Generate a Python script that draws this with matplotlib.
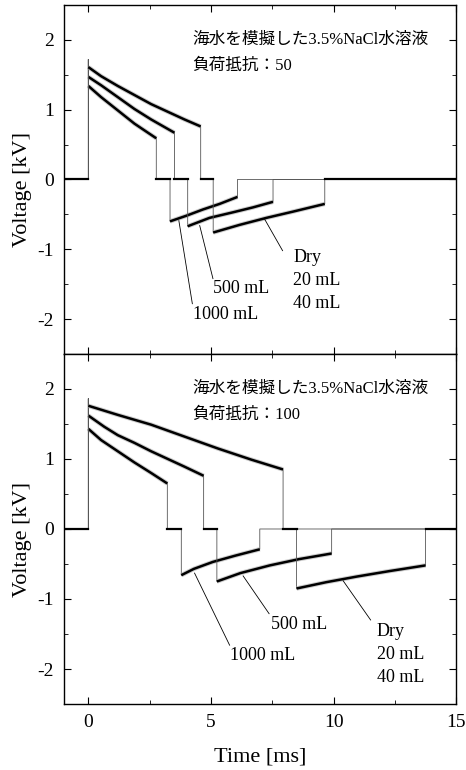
import numpy as np
import matplotlib
matplotlib.use("Agg")
import matplotlib.pyplot as plt
from matplotlib.ticker import MultipleLocator

plt.rcParams.update({
    "font.family": ["Liberation Serif", "Noto Sans CJK JP"],
    "font.size": 14,
    "axes.linewidth": 1.0,
    "xtick.direction": "in", "ytick.direction": "in",
    "xtick.top": True, "ytick.right": True,
    "xtick.major.size": 5, "ytick.major.size": 5,
    "xtick.minor.size": 3, "ytick.minor.size": 3,
})

# Waveforms (t in ms, V in kV)
# panel A: load 50, panel B: load 100; traces ordered 1000 mL, 500 mL, Dry/20/40 mL
spike_a = 1.72
pos_t_a = [[0.0, 0.52, 1.2, 1.88, 2.43, 2.77],
           [0.0, 0.52, 1.2, 1.88, 2.56, 3.11, 3.51],
           [0.0, 0.52, 1.2, 1.88, 2.56, 3.24, 3.92, 4.58]]
pos_v_a = [[1.34, 1.18, 0.99, 0.80, 0.67, 0.59],
           [1.47, 1.35, 1.18, 1.01, 0.86, 0.75, 0.67],
           [1.61, 1.48, 1.34, 1.21, 1.08, 0.97, 0.86, 0.76]]
neg_t_a = [[3.33, 3.99, 4.67, 5.35, 6.08],
           [4.05, 4.94, 5.90, 6.71, 7.53],
           [5.09, 6.17, 7.26, 8.35, 9.64]]
neg_v_a = [[-0.60, -0.52, -0.43, -0.35, -0.25],
           [-0.67, -0.55, -0.47, -0.40, -0.32],
           [-0.76, -0.65, -0.55, -0.46, -0.35]]

spike_b = 1.86
pos_t_b = [[0.0, 0.52, 1.2, 1.88, 2.56, 3.22],
           [0.0, 0.65, 1.2, 1.88, 2.56, 3.24, 3.92, 4.70],
           [0.0, 1.2, 2.56, 3.92, 5.28, 6.65, 7.94]]
pos_v_b = [[1.43, 1.27, 1.11, 0.95, 0.80, 0.65],
           [1.62, 1.46, 1.34, 1.23, 1.11, 1.00, 0.89, 0.76],
           [1.76, 1.63, 1.49, 1.32, 1.15, 0.99, 0.85]]
neg_t_b = [[3.79, 4.30, 5.08, 6.00, 6.99],
           [5.24, 6.20, 7.40, 8.60, 9.92],
           [8.49, 9.70, 10.94, 12.30, 13.75]]
neg_v_b = [[-0.66, -0.57, -0.47, -0.38, -0.29],
           [-0.75, -0.63, -0.52, -0.43, -0.35],
           [-0.85, -0.76, -0.68, -0.60, -0.52]]

title = "海水を模擬した3.5%NaCl水溶液"
loads = ["負荷抵抗：50", "負荷抵抗：100"]
labels = ["1000 mL", "500 mL", "Dry\n20 mL\n40 mL"]

# label anchor (left, centre of first line) and leader line (trace -> text)
lab_xy_a = [(4.25, -1.93), (5.1, -1.56), (8.35, -1.12)]
lead_a = [((3.69, -0.59), (4.24, -1.78)), ((4.54, -0.66), (5.08, -1.42)), ((7.19, -0.57), (7.92, -1.02))]
lab_xy_b = [(5.78, -1.80), (7.46, -1.37), (11.75, -1.46)]
lead_b = [((4.33, -0.63), (5.76, -1.66)), ((6.31, -0.67), (7.37, -1.21)), ((10.39, -0.74), (11.51, -1.30))]

fig = plt.figure(figsize=(4.66, 7.70), dpi=100)
ax1 = fig.add_axes([0.137, 0.5403, 0.842, 0.4532])
ax2 = fig.add_axes([0.137, 0.0857, 0.842, 0.4546])


def draw(ax, spike, pos_t, pos_v, neg_t, neg_v, load, lab_xy, lead):
    for pt, pv, nt, nv in zip(pos_t, pos_v, neg_t, neg_v):
        t = [-1, 0, 0] + pt + [pt[-1], nt[0], nt[0]] + nt + [nt[-1], 15]
        v = [0, 0, spike] + pv + [0, 0] + [nv[0]] + nv + [0, 0]
        ax.plot(t, v, color="#555555", lw=0.6)
        for xs, ys in [(pt, pv), (nt, nv)]:
            ax.plot(xs, ys, color="#aaaaaa", lw=3.2, alpha=0.6, solid_capstyle="butt")
            ax.plot(xs, ys, color="black", lw=1.8, solid_capstyle="butt")
    ax.plot([-1, 0], [0, 0], color="black", lw=1.6)
    ax.plot([max(n[-1] for n in neg_t), 15], [0, 0], color="black", lw=1.6)
    for pt, nt in zip(pos_t, neg_t):
        ax.plot([pt[-1], nt[0]], [0, 0], color="black", lw=1.6)

    for (x0, y0), (x1, y1) in lead:
        ax.plot([x0, x1], [y0, y1], color="black", lw=0.6)
    for txt, (x, y) in zip(labels, lab_xy):
        for i, part in enumerate(txt.split("\n")):
            ax.text(x, y - 0.33 * i, part, fontsize=13, ha="left", va="center")

    ax.text(0.328, 0.90, title, transform=ax.transAxes, fontsize=12, ha="left", va="center")
    ax.text(0.328, 0.825, load, transform=ax.transAxes, fontsize=12, ha="left", va="center")

    ax.set_xlim(-1, 15)
    ax.set_ylim(-2.5, 2.5)
    ax.xaxis.set_major_locator(MultipleLocator(5))
    ax.xaxis.set_minor_locator(MultipleLocator(2.5))
    ax.yaxis.set_major_locator(MultipleLocator(1))
    ax.yaxis.set_minor_locator(MultipleLocator(0.5))
    ax.tick_params(axis="both", which="major", labelsize=14, pad=7)
    ax.set_ylabel("Voltage [kV]", fontsize=16)
    ax.yaxis.set_label_coords(-0.082, 0.47)
    ax.set_yticks([-2, -1, 0, 1, 2])
    ax.set_yticklabels(["-2", "-1", "0", "1", "2"])


draw(ax1, spike_a, pos_t_a, pos_v_a, neg_t_a, neg_v_a, loads[0], lab_xy_a, lead_a)
draw(ax2, spike_b, pos_t_b, pos_v_b, neg_t_b, neg_v_b, loads[1], lab_xy_b, lead_b)

ax1.tick_params(axis="x", labelbottom=False)
ax2.set_xlabel("Time [ms]", fontsize=16, labelpad=12)

fig.savefig("out.png", dpi=100)
